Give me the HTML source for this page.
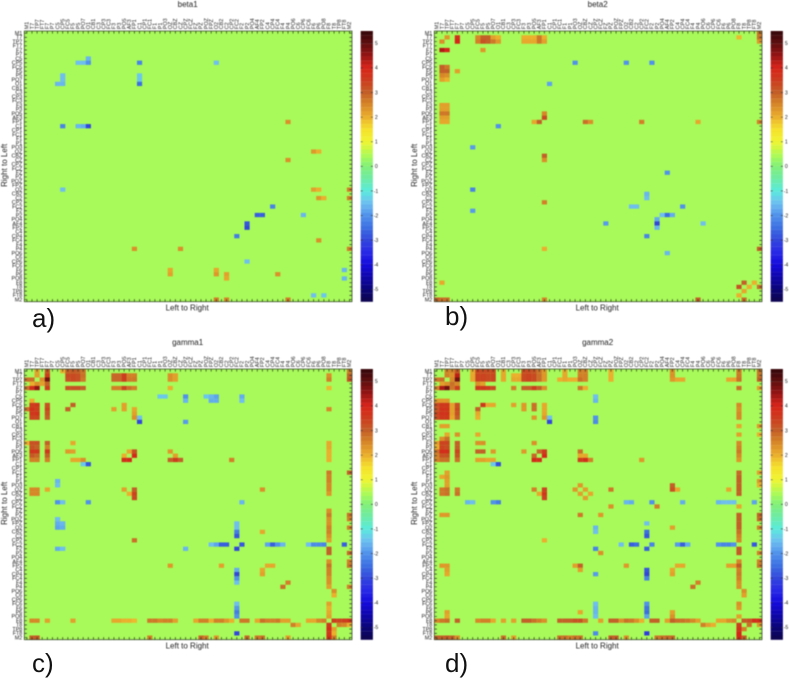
<!DOCTYPE html>
<html lang="en">
<head>
<meta charset="utf-8">
<title>Connectivity matrices</title>
<style>
html,body{margin:0;padding:0;background:#fff;}
#stage{position:relative;width:789px;height:680px;overflow:hidden;background:#fff;}
#chart{position:absolute;left:0;top:0;filter:blur(0.5px);}
.panel-label{position:absolute;font-family:"Liberation Sans",sans-serif;font-size:26px;line-height:30px;color:#111;}
text{font-family:"Liberation Sans",sans-serif;fill:#222;}
</style>
</head>
<body>
<div id="stage">
<svg id="chart" width="789" height="680" viewBox="0 0 789 680" xmlns="http://www.w3.org/2000/svg"></svg>
<div class="panel-label" style="left:32px;top:303px">a)</div>
<div class="panel-label" style="left:445px;top:301px">b)</div>
<div class="panel-label" style="left:32px;top:648px">c)</div>
<div class="panel-label" style="left:445px;top:648px">d)</div>
</div>
<script>
const electrodeLabels = ['M1','T7','TP7','FT7','F7','P7','C5','CP5','FC5','F5','P5','PO7','O1','CB1','C3','CP3','FC3','F3','P3','PO5','AF3','FP1','C1','CP1','FC1','F1','P1','PO3','OZ','CBZ','CZ','CPZ','FCZ','FZ','PZ','POZ','FPZ','O2','CB2','C2','CP2','FC2','F2','P2','PO4','AF4','FP2','C4','CP4','FC4','F4','P4','PO6','C6','CP6','FC6','F6','P6','PO8','F8','T8','TP8','FT8','M2'];
const colorbarTicks = [5,4,3,2,1,0,-1,-2,-3,-4,-5];
const valueMin = -5.5;
const valueMax = 5.5;
const backgroundValue = 0.4;
/* colour scale: value, r, g, b */
const scaleStops = [
[5.5,50,5,10],[5,95,15,15],[4.5,150,20,20],[4,215,35,25],[3.5,205,60,30],[3,195,95,40],[2.5,215,135,40],[2,235,175,45],[1.5,245,225,45],[1,240,245,50],[0.4,168,250,90],[0,130,240,120],[-0.5,110,235,165],[-1,90,235,220],[-1.5,110,190,240],[-2,80,145,235],[-2.5,60,110,225],[-3,50,70,220],[-3.5,40,40,230],[-4,20,10,220],[-4.5,15,5,170],[-5,10,5,120],[-5.5,15,5,75]
];

/* each entry: [row, first column, values in consecutive columns] */
const beta1Runs = [
[6,12,[-1.6]],[7,10,[-1.5,-1.5,-2]],[7,22,[-2.2]],[7,37,[-1.5]],
[10,7,[-1.5]],[10,22,[-1.4]],[11,7,[-1.5]],[11,22,[-1.4]],[12,6,[-1.6,-1.6]],[12,22,[-2.5]],
[21,51,[2.4]],[22,7,[-2.2]],[22,10,[-1.6,-1.7,-3]],
[28,56,[2.3,2.0]],[30,51,[2.4]],
[37,7,[-1.5]],[37,56,[2.2,2.0]],[37,63,[2.6]],
[39,57,[2.3,2.0]],[39,63,[2.6]],[41,48,[-2.2]],[43,45,[-2.7,-2.7]],[43,54,[-1.6]],
[45,43,[-2.8]],[46,43,[-3]],[48,41,[-2.3]],[49,57,[2.4]],
[51,21,[2.4]],[51,30,[2.4]],[51,63,[2.6]],[54,43,[-1.5]],
[56,28,[2.1]],[56,37,[2.1]],[56,62,[-1.6]],
[57,28,[2.2]],[57,37,[2.3]],[57,39,[2.2]],[57,49,[2.4]],
[58,39,[2.1]],[58,62,[-1.6]],
[62,56,[-1.5]],[62,58,[-1.4]],
[63,37,[2.6]],[63,39,[2.5]],[63,51,[2.6]]
];
const beta2Runs = [
[0,63,[2.8]],
[1,2,[2.3]],[1,4,[3.8]],[1,8,[2.5,3,3,2.2,2.0]],[1,17,[2,2,2,2.7,2]],[1,59,[1.9]],[1,63,[2.8]],
[2,1,[2.4]],[2,4,[4]],[2,8,[2.6,3.2,3,2.7,2.3]],[2,17,[2.1,2.1,2.1,2.7,2.2]],[2,63,[2.3]],
[4,1,[4.3,4]],[4,9,[2.3]],
[7,27,[-2]],[7,37,[-2]],[7,42,[-2]],
[8,1,[3,2.7]],[9,1,[3,3]],[9,4,[2.2]],[10,1,[2.5,2.4]],[11,1,[2.2,2.0]],
[12,22,[-1.8]],
[17,1,[2.2,2.2]],[18,1,[2.2,2.2]],[19,1,[2.7,2.7]],[19,21,[2.5]],
[20,1,[2.2,2.2]],[20,21,[3.3]],
[21,1,[2.1,2.1]],[21,19,[2.1,3]],[21,29,[2.8,2.4]],[21,40,[2.6]],[21,51,[2.1]],[21,63,[2.6]],
[22,12,[-2]],[27,7,[-1.9]],[29,21,[3]],[30,21,[2.4]],[33,45,[-2]],
[37,7,[-2.2]],[38,41,[-1.6]],[39,41,[-1.5]],[40,21,[2.6]],
[41,38,[-1.5,-1.5]],[41,48,[-2]],[42,7,[-1.9]],[43,44,[-1.5,-2.5,-1.7]],[44,43,[-1.7]],
[45,33,[-1.9]],[45,43,[-3]],[45,52,[-1.5]],[46,43,[-1.6]],[48,41,[-2.2]],
[51,21,[2.0]],[51,63,[3]],[52,45,[-1.6]],
[59,1,[2.1]],[59,60,[3]],[59,62,[2]],
[60,59,[3.2]],[60,61,[2.0]],[60,63,[2.8]],
[61,60,[2.1]],[62,59,[2.0]],
[63,0,[3,2.8,2.8]],[63,21,[2.5]],[63,51,[3]],[63,60,[2.8]]
];
const gamma1Runs = [
[0,2,[2.2]],[0,4,[3.2]],[0,7,[2.0,3,3.1,3,2.8]],[0,63,[2.6]],
[1,2,[2.2]],[1,4,[3.5]],[1,8,[3.3,3.3,3.2,2.8]],[1,17,[2.9,2.9,3.5,2.6,2.6]],[1,28,[2.4,2.2]],[1,59,[2.4]],[1,63,[3]],
[2,0,[2.8,2.8]],[2,3,[2.4,4.8]],[2,8,[3.2,3.3,3.2,2.7]],[2,17,[2.9,2.9,3.5,2.7,2.7]],[2,28,[2.4,2.2]],[2,59,[2.6]],[2,63,[3.2]],
[3,1,[2,2.4,2.2,3]],
[4,0,[2.8,3.8,4.5]],[4,4,[3.5]],[4,8,[3.2,3.2,3.2,3]],[4,17,[2.6,2.6,3.4,2.8,2.6]],[4,28,[2.0]],[4,59,[1.9]],
[6,26,[-1.4,-1.4]],[6,31,[-2]],[6,35,[-1.4,-1.6,-1.8]],[6,42,[-1.7]],
[7,1,[2.0]],[7,31,[-1.6]],[7,36,[-1.7,-1.7]],[7,42,[-1.5]],
[8,1,[3.5,3.6]],[8,4,[3.2]],[8,9,[3]],[8,19,[2.2]],
[9,0,[2.8,3.7,3.5]],[9,4,[3.4]],[9,8,[3]],[9,17,[2.2]],[9,19,[2.2]],[9,21,[2.1]],[9,59,[2.5]],
[10,1,[3.6,3.7]],[10,4,[3.2]],[10,21,[2.2]],
[11,1,[3.4,3.4]],[11,4,[3.0]],[11,21,[2.4,-1.5]],
[12,22,[-3]],[12,31,[-1.9]],
[17,0,[2.0,3.2,3.2]],[17,4,[3]],[17,9,[2.1]],[17,59,[2.1]],
[18,1,[3.2,3]],[18,4,[2.6]],[18,59,[2.1]],
[19,1,[3.6,3.6]],[19,4,[3.6]],[19,8,[2.3,2.2]],[19,20,[2.1,3.2]],[19,28,[2.3]],[19,59,[2.0]],
[20,1,[3.1,2.9]],[20,4,[3]],[20,19,[2.0]],[20,21,[3.9]],[20,29,[2.2]],[20,59,[2.0]],
[21,1,[2.6,2.6]],[21,4,[2.6]],[21,9,[2.1,2.1,2.4]],[21,19,[3.8,3.9]],[21,28,[3,3.5,3]],[21,40,[2.6]],[21,59,[2.0]],
[22,11,[-1.4,-2.8]],
[24,59,[2.7]],[24,63,[3]],[25,59,[2.6]],[26,6,[-1.6]],[26,59,[2.6]],[27,6,[-1.5]],[27,59,[2.5]],
[28,1,[2.5,2.5]],[28,4,[2.1]],[28,19,[2.2]],[28,21,[3]],[28,46,[2.4]],[28,59,[2.5]],
[29,1,[2.5,2.5]],[29,20,[2.0,3.4]],[29,59,[2.3]],
[30,21,[3.3]],
[31,6,[-2,-1.5]],[31,12,[-2]],[31,42,[-1.6]],
[33,59,[2.4]],[34,59,[2.7]],[34,63,[2.8]],
[35,6,[-1.5]],[35,59,[2.4]],[35,63,[2.6]],
[36,6,[-1.7,-1.6]],[36,41,[-1.5]],[36,59,[2.4]],
[37,6,[-1.8,-1.7]],[37,41,[-1.5]],[37,59,[2.6]],[37,63,[2.6]],
[38,41,[-2.3]],[38,46,[2.1]],[38,59,[2.6]],
[39,41,[-2.8]],[39,59,[2.4]],
[40,21,[2.8]],[40,59,[2.2]],
[41,36,[-1.5,-1.8,-2.7,-2.7]],[41,42,[-2.8]],[41,47,[-1.8,-2.7,-2,-1.6]],[41,55,[-1.5,-2.1,-2.1,-2.2]],[41,62,[-2.7]],
[42,6,[-1.7,-1.5]],[42,31,[-1.6]],[42,41,[-3]],[42,59,[3]],
[43,59,[3]],[43,63,[2.9]],
[45,59,[2.4]],[45,63,[2.6]],
[46,28,[2.3]],[46,38,[2.2]],[46,47,[2.1,2.1]],[46,59,[2.8]],[46,63,[2.8]],
[47,41,[-1.7]],[47,46,[2.1]],[47,59,[2.6]],
[48,41,[-3]],[48,46,[2.2]],[48,59,[2.6]],
[49,41,[-2]],[49,59,[2.4]],
[50,41,[-1.5]],[50,51,[2.6]],[50,59,[2.4]],
[51,50,[2.8]],[51,59,[2.2]],[51,63,[2.6]],
[52,60,[2.4]],[53,60,[2.0]],
[55,41,[-1.5]],[55,59,[2.2]],[56,41,[-1.9]],[56,59,[2.0]],
[57,41,[-2.3]],[57,59,[2.1]],[58,41,[-2]],[58,59,[2.2]],
[59,1,[2.5,2.5]],[59,4,[2.2]],[59,9,[2.2]],[59,17,[2.1,2.1,2,2,1.9]],[59,24,[2.7,2.7,2.5,2.6,2.6,2.2]],
[59,33,[2.1,2.6,2.6,2,2.6,2.6,2.3,2.0]],[59,42,[2.7,2.7]],[59,45,[2.1,2.8,2.6,2.6,2.7,2.2,2.2]],
[59,55,[2.1,2.1,2.5,2.6]],[59,60,[3.5,3.4,3.5,3.7]],
[60,52,[2.6,2.1]],[60,59,[3.6]],[60,61,[2.6,2.5,2]],
[61,59,[3.8,2.2]],
[62,41,[-3]],[62,59,[3.6,2.0]],
[63,1,[3,3.1]],[63,24,[2.6]],[63,34,[2.9,2.6]],[63,37,[2.3]],[63,43,[2.9]],[63,45,[2.7,2.8]],[63,51,[2.2]],[63,59,[3.8,2.6]]
];
const gamma2Runs = [
[0,2,[2.6,2.6,3.2]],[0,7,[2.1,3.4,3.3,3.3,3.4]],[0,13,[2.1]],[0,17,[3.3,3.3,3.2,2.8,2.3]],[0,25,[2.1]],[0,28,[2.6,2.6]],[0,34,[2]],[0,46,[2.4]],[0,59,[2.7]],[0,63,[2.8]],
[1,2,[2.6,2.4,4.2]],[1,7,[2.1,3.4,3.4,3.3,3.4]],[1,13,[2.1]],[1,15,[2,2]],[1,17,[3.3,3.4,3.3,2.8,2.3]],[1,25,[2.1]],[1,28,[2.6,2.6]],[1,34,[2]],[1,46,[2.4]],[1,59,[2.7]],[1,63,[2.8]],
[2,0,[2.7,2.8]],[2,3,[2.5,4.8]],[2,7,[2.1,3.4,3.4,3.3,3.4]],[2,13,[2.1]],[2,15,[2.1,2.1,3.3,3.4,3.3,2.8,2.3]],[2,24,[2.0,2.1,2,2,2.8,2.6]],[2,34,[2]],[2,46,[2.3,2.1,2.1]],[2,57,[2.1,2.1,2.8]],[2,63,[3]],
[3,1,[2.2,2.4,2.8,2.5]],[3,8,[2.4,2.2]],
[4,0,[2.6,4.3,4.8,2.7,3.5]],[4,8,[3.6,3.6,3.5,3.3]],[4,15,[2.6]],[4,17,[3,3,3.5,3,2.4]],[4,28,[2.7,2]],[4,59,[2.8]],[4,63,[2.2]],
[6,31,[-1.5]],[7,0,[2.3,2.3,2.3]],[7,31,[-1.6]],
[8,0,[3.3,3.6,3.6,2.2,3.2]],[8,9,[3.6,2.1,2.1]],[8,15,[2.2]],[8,17,[2.3]],[8,19,[2.8]],[8,21,[2.1]],[8,59,[2.5]],
[9,0,[3.2,3.7,3.7,2.2,3.3]],[9,8,[3]],[9,17,[2.3]],[9,19,[2.8]],[9,21,[2.1]],[9,59,[2.4]],
[10,0,[3.4,3.7,3.7,2.2,3.2]],[10,8,[2.1]],[10,21,[2.1]],[10,59,[2.5]],
[11,0,[3.3,3.6,3.6,2.1,3]],[11,8,[2]],[11,19,[2.3]],[11,21,[2.3,-1.5]],[11,31,[-2]],[11,59,[2.5]],
[12,22,[-3]],[12,31,[-2.1]],
[13,1,[2.2,2.2]],[13,59,[2.1]],[13,63,[2.3]],
[15,2,[2.1]],[15,4,[2.4]],[15,8,[2.1]],[15,59,[2.2]],[15,63,[2]],
[16,1,[2.4,2.8]],
[17,0,[2.2,3.4,3.4]],[17,4,[3]],[17,8,[2.4,2.4]],[17,19,[2.4]],[17,59,[2.5]],
[18,0,[2,3.4,3.3]],[18,4,[3]],[18,59,[2.6]],
[19,0,[2.8,3.8,3.8]],[19,4,[3.4]],[19,8,[3,3]],[19,11,[2.3]],[19,17,[2.3]],[19,20,[2.9,3.5]],[19,28,[2.8]],[19,59,[2.7]],
[20,0,[2.6,3.2,3.2]],[20,4,[3.2]],[20,19,[2.9]],[20,21,[3.9]],[20,28,[2.1,2.1]],[20,59,[2.5]],
[21,0,[2.6,2.8,2.8]],[21,4,[2.8]],[21,8,[2.2,2.2,2.1,2.1]],[21,19,[3.9,3.8]],[21,28,[3.5,3.8,2.6]],[21,40,[2.3]],[21,59,[2.3]],
[22,11,[-1.4,-2.9]],
[24,2,[2.2]],[24,59,[2.9]],[24,63,[2.2]],
[25,1,[2.1,2.3]],[25,59,[3]],
[26,2,[2.2]],[26,59,[3]],[26,63,[2.3]],
[27,2,[2.2]],[27,28,[2.3]],[27,46,[3]],[27,59,[3]],[27,63,[2]],
[28,1,[2.7,2.8]],[28,4,[2.7]],[28,19,[2.6]],[28,21,[3.4]],[28,27,[2.3]],[28,29,[2.2]],[28,34,[2.7]],[28,46,[3.2,2.1]],[28,57,[2.1]],[28,59,[3]],
[29,1,[2.7,2.8]],[29,4,[2.8]],[29,20,[2.1,3.6]],[29,28,[2.2]],[29,30,[2.1]],[29,59,[3]],
[30,21,[3.4]],[30,29,[2.2]],
[31,6,[-1.6,-1.5]],[31,11,[-2,-2.3]],[31,37,[-1.6,-1.7]],[31,42,[-2]],[31,48,[-1.7]],[31,55,[-1.6,-1.5,-1.5,-1.5]],[31,62,[-1.8]],
[32,34,[2.4]],[32,43,[2.6]],[32,59,[2.1]],
[34,1,[2.3,2.3]],[34,28,[2.7]],[34,32,[2.3]],[34,59,[3]],[34,63,[3]],
[35,59,[3]],[35,63,[2.9]],
[36,41,[-1.5]],[36,59,[3]],
[37,31,[-1.6]],[37,46,[2.2]],[37,59,[3]],[37,63,[2.6]],
[38,31,[-1.5]],[38,41,[-2.5]],[38,59,[2.8]],
[39,41,[-2.8]],[39,59,[2.6]],
[40,21,[2]],[40,59,[2.5]],
[41,36,[-1.5]],[41,38,[-2.7,-2.5]],[41,42,[-2.2]],[41,47,[-1.9,-2.7,-1.7]],[41,55,[-2,-2.2,-2.2,-2]],[41,62,[-2.8]],
[42,31,[-2.2]],[42,41,[-2.7]],[42,59,[3.1]],
[43,32,[2.4]],[43,59,[3.1]],[43,63,[2.6]],
[45,59,[2.5]],[45,63,[2.6]],
[46,1,[2.3,2.3]],[46,27,[2.2,3]],[46,37,[2.3]],[46,47,[2.1,2.1]],[46,57,[2.2,2.2,3.1]],[46,63,[2.8]],
[47,2,[2.2]],[47,28,[2.2]],[47,41,[-2.8]],[47,46,[2.1]],[47,59,[2.6]],
[48,2,[2.1]],[48,31,[-1.9]],[48,41,[-3]],[48,46,[2.2]],[48,59,[2.7]],
[49,41,[-2.2]],[49,59,[2.6]],
[50,51,[2.6]],[50,59,[2.4]],
[51,50,[2.8]],[51,59,[2.4]],
[52,60,[2.4]],[53,60,[2.2]],
[55,31,[-1.5]],[55,41,[-2]],[55,59,[2.4]],
[56,31,[-1.6]],[56,41,[-2.4]],[56,59,[2.3]],
[57,2,[2.2]],[57,28,[2.1]],[57,31,[-1.6]],[57,41,[-2.5]],[57,46,[2.2]],
[58,2,[2.1]],[58,31,[-1.5]],[58,41,[-1.8]],[58,46,[2.4]],[58,59,[2.2]],
[59,0,[2.5,2.7,2.8]],[59,4,[3]],[59,8,[2.5,2.6,2.6,2.1]],[59,13,[2.2]],[59,15,[2.2]],[59,17,[3,3,2.8,2.6,2.4]],[59,24,[3,3,3,3.2,3.2,2.7]],[59,32,[2.2]],
[59,34,[3,3,2.4,2.8,2.7,2.4,2]],[59,42,[3,3]],[59,45,[2.2,3,2.8,2.8,2.7,2.5,2.2]],[59,55,[2.1,2.1,2.4,2.5]],[59,60,[3.1,3.2,3.8,3.8]],
[60,52,[2.6,2.2,2]],[60,59,[3.5]],[60,61,[2.8]],[60,63,[2.3]],
[61,59,[3.7,2.6]],
[62,31,[-2.1]],[62,41,[-3.2]],[62,59,[4]],
[63,0,[3,3,3.1,3,2.4]],[63,13,[2.8]],[63,15,[2.2]],[63,24,[2.8,2.8,2.6,2.8,2.8]],[63,34,[3,3]],[63,37,[2.4]],[63,43,[2.7,2.8,2.9,2.9]],[63,59,[3.9,3]]
];

const PLOT_W = 327.7, PLOT_H = 270.7, CB_GAP = 336.4, CB_W = 12.2, N = 64;
const SVG_NS = 'http://www.w3.org/2000/svg';
const svg = document.getElementById('chart');

function make(tag, parent, attrs, txt) {
  const e = document.createElementNS(SVG_NS, tag);
  for (const k in attrs) e.setAttribute(k, attrs[k]);
  if (txt !== undefined) e.textContent = txt;
  parent.appendChild(e);
  return e;
}
function colorOf(value) {
  const v = Math.max(valueMin, Math.min(valueMax, value));
  for (let i = 0; i < scaleStops.length - 1; i++) {
    const a = scaleStops[i], b = scaleStops[i + 1];
    if (v <= a[0] && v >= b[0]) {
      const f = (a[0] - v) / (a[0] - b[0]);
      const ch = k => Math.round(a[k] + (b[k] - a[k]) * f);
      return 'rgb(' + ch(1) + ',' + ch(2) + ',' + ch(3) + ')';
    }
  }
  return '#000';
}

function drawPanel(slug, title, runs, x0, y0) {
  const xCol = c => x0 + c * PLOT_W / N;
  const yRow = r => y0 + r * PLOT_H / N;
  const yVal = v => y0 + (valueMax - v) / (valueMax - valueMin) * PLOT_H;

  const g = make('g', svg, {});
  
  

  const bg = make('rect', g, { x: x0, y: y0, width: PLOT_W, height: PLOT_H, fill: colorOf(backgroundValue) });
  
  

  runs.forEach(run => {
    run[2].forEach((value, i) => {
      const cell = make('rect', g, {
        x: xCol(run[1] + i), y: yRow(run[0]),
        width: PLOT_W / N + 0.05, height: PLOT_H / N + 0.05,
        fill: colorOf(value)
      });
      
      
    });
  });

  const frame = make('rect', g, { x: x0, y: y0, width: PLOT_W, height: PLOT_H, fill: 'none', stroke: '#2a3a20', 'stroke-width': 0.7 });
  
  

  let d = '';
  for (let i = 0; i < N; i++) {
    const cx = xCol(i + 0.5), cy = yRow(i + 0.5);
    d += 'M' + cx + ' ' + y0 + 'v2.6M' + cx + ' ' + (y0 + PLOT_H) + 'v-2.6';
    d += 'M' + x0 + ' ' + cy + 'h2.6M' + (x0 + PLOT_W) + ' ' + cy + 'h-2.6';
  }
  const ticks = make('path', g, { d: d, stroke: '#2a3a20', 'stroke-width': 0.7, fill: 'none' });
  
  

  electrodeLabels.forEach((name, i) => {
    const cx = xCol(i + 0.5), cy = yRow(i + 0.5);
    const top = make('text', g, {
      x: cx + 1.8, y: y0 - 1.8, 'font-size': 5.4,
      transform: 'rotate(-90 ' + (cx + 1.8) + ' ' + (y0 - 1.8) + ')',
      fill: '#333'
    }, name);
    
    
    const left = make('text', g, {
      x: x0 - 2, y: cy + 1.8, 'font-size': 5.4, 'text-anchor': 'end', fill: '#333'
    }, name);
    
    
  });

  const tt = make('text', g, { x: x0 + PLOT_W / 2 - 0.5, y: y0 - 24, 'font-size': 8, 'text-anchor': 'middle' }, title);
  
  

  const xt = make('text', g, { x: x0 + PLOT_W / 2 - 1, y: y0 + PLOT_H + 9, 'font-size': 8, 'text-anchor': 'middle' }, 'Left to Right');
  
  

  const yx = x0 - 17.5, yy = y0 + PLOT_H / 2 - 1;
  const yt = make('text', g, { x: yx, y: yy, 'font-size': 8, 'text-anchor': 'middle', transform: 'rotate(-90 ' + yx + ' ' + yy + ')' }, 'Right to Left');
  
  

  const cbx = x0 + CB_GAP;
  const cb = make('g', g, {});
  
  
  const levels = 64;
  for (let i = 0; i < levels; i++) {
    const value = valueMax - (i + 0.5) * (valueMax - valueMin) / levels;
    make('rect', cb, { x: cbx, y: yVal(valueMax) + i * PLOT_H / levels, width: CB_W, height: PLOT_H / levels + 0.1, fill: colorOf(value) });
  }
  colorbarTicks.forEach(v => {
    const y = yVal(v);
    make('path', cb, { d: 'M' + cbx + ' ' + y + 'h2M' + (cbx + CB_W) + ' ' + y + 'h-2', stroke: '#333', 'stroke-width': 0.6 });
    const lab = make('text', cb, { x: cbx + CB_W + (v < 0 ? 0.8 : 2), y: y + 1.8, 'font-size': 5.2, fill: '#333' }, (v < 0 ? '-' : '') + Math.abs(v));
    
    
  });
}

drawPanel('beta1', 'beta1', beta1Runs, 24.3, 31);
drawPanel('beta2', 'beta2', beta2Runs, 434.3, 31);
drawPanel('gamma1', 'gamma1', gamma1Runs, 24.3, 369);
drawPanel('gamma2', 'gamma2', gamma2Runs, 434.3, 369);
</script>
</body>
</html>
